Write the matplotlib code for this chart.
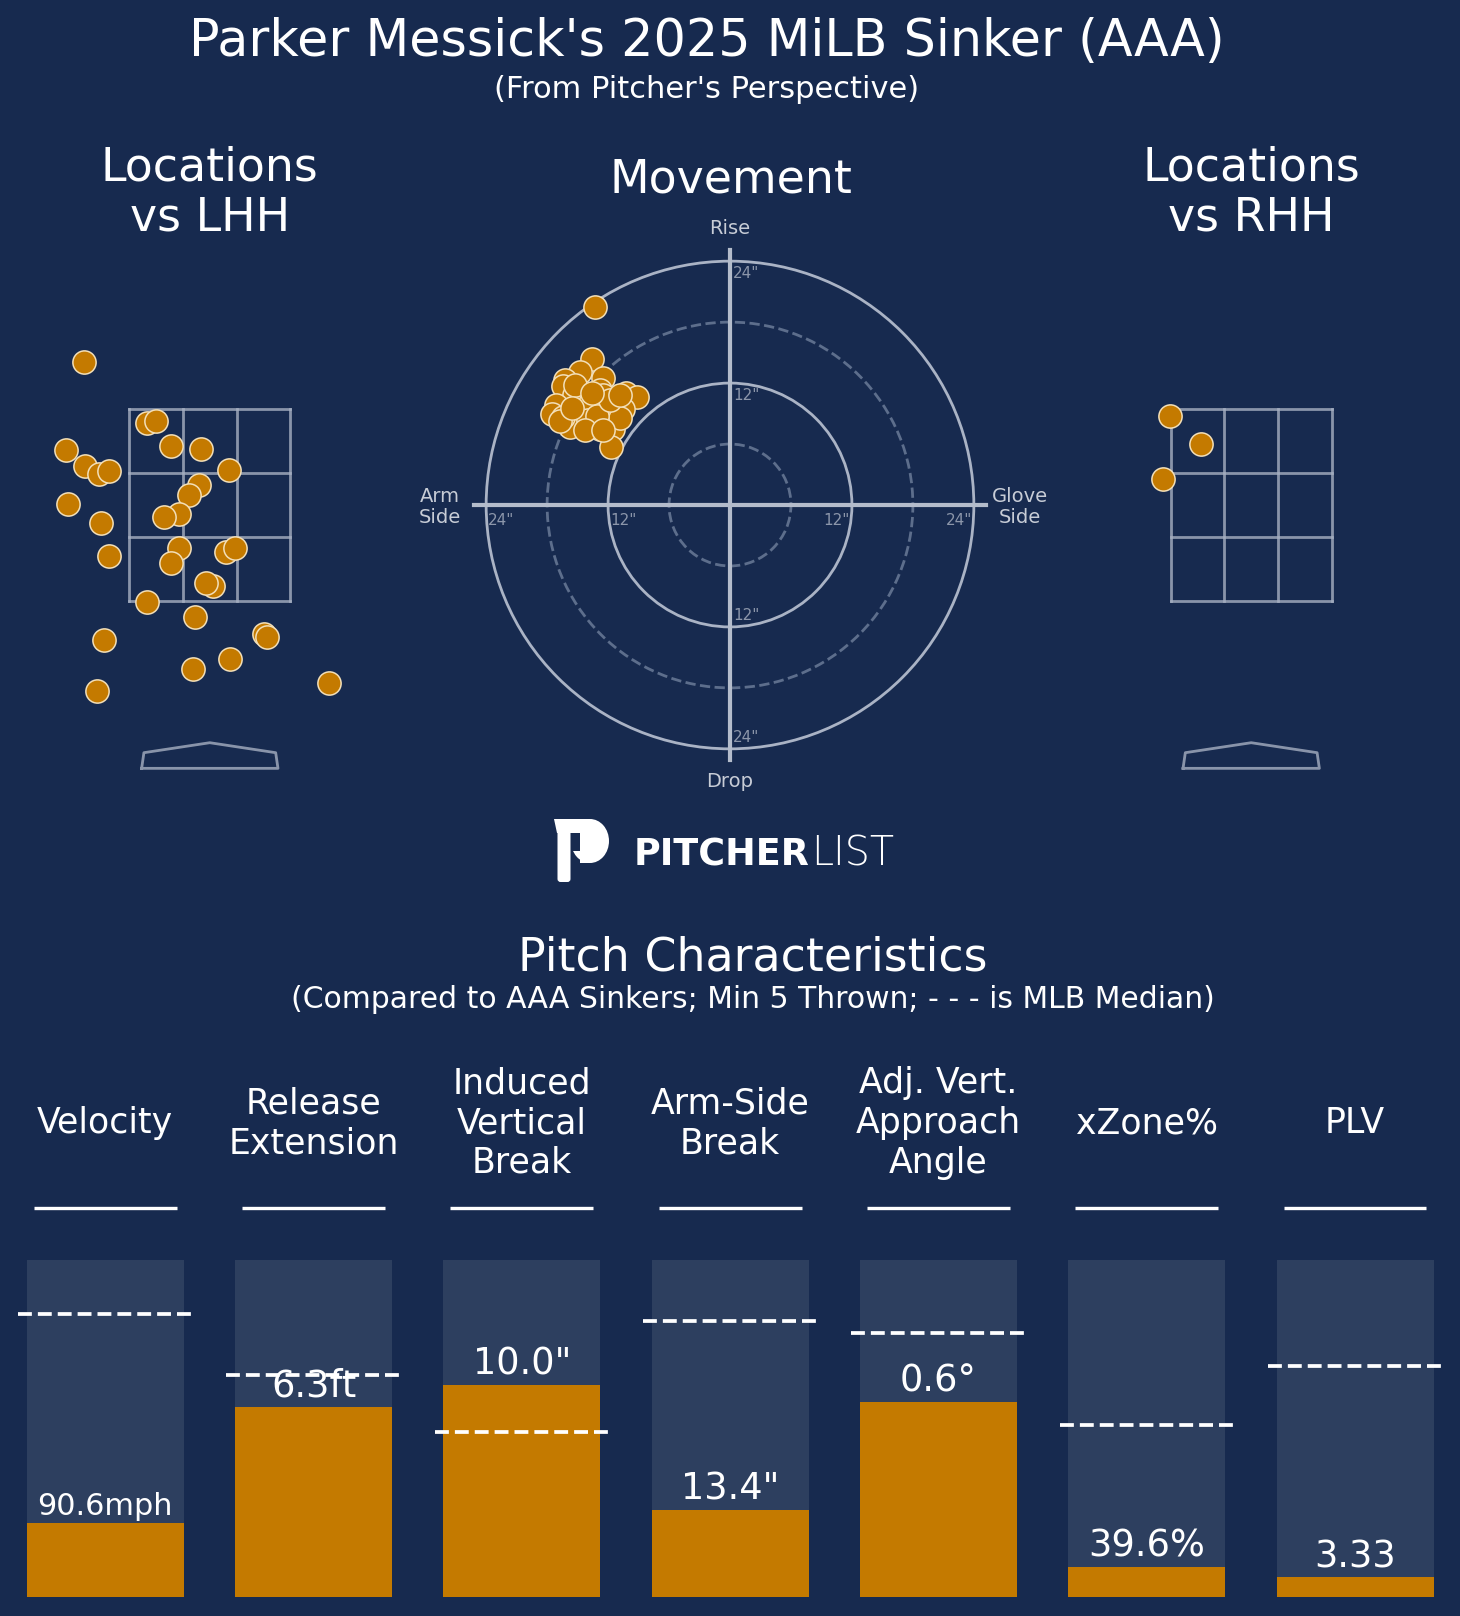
import matplotlib
matplotlib.use('Agg')
import matplotlib.pyplot as plt
from matplotlib.patches import Circle, Rectangle, Ellipse, FancyBboxPatch, Polygon

# ---------------- data ----------------
title = "Parker Messick's 2025 MiLB Sinker (AAA)"
subtitle = "(From Pitcher's Perspective)"

# pitch locations (ft, pitcher's perspective)
lhh_x = [-1.11, -0.555, -0.474, -0.342, -0.075, -1.263, -1.101, -0.973, -0.885, 0.166,
         -1.248, -0.958, -0.885, -0.098, -0.186, -0.274, -0.406, -0.274, -0.342, 0.145,
         0.224, 0.026, -0.036, -0.553, -0.130, -0.931, 0.477, 0.501, 0.180, -0.148,
         -0.996, 1.049]
lhh_y = [3.99, 3.354, 3.375, 3.115, 3.086, 3.076, 2.906, 2.823, 2.857, 2.865,
         2.510, 2.313, 1.975, 2.711, 2.607, 2.413, 2.378, 2.055, 1.899, 2.010,
         2.055, 1.659, 1.694, 1.496, 1.336, 1.097, 1.160, 1.131, 0.896, 0.792,
         0.569, 0.649]
rhh_x = [-0.715, -0.439, -0.779]
rhh_y = [3.43, 3.142, 2.777]

# movement (inches): negative horizontal = arm side
mov_hb = [-13.3, -13.6, -14.8, -12.5, -16.2, -16.4, -15.4, -12.8, -10.2, -9.2,
          -10.5, -17.1, -17.5, -14.8, -12.5, -15.1, -15.7, -12.8, -12.3, -11.5,
          -11.7, -16.4, -13.8, -12.5, -14.0, -10.8, -15.3, -13.1, -11.8, -14.3,
          -16.7, -10.8, -13.6, -12.5, -15.6]
mov_ivb = [19.5, 14.4, 13.1, 12.5, 12.3, 11.7, 10.8, 11.3, 11.0, 10.6,
           9.4, 9.8, 9.0, 9.2, 9.7, 8.4, 7.7, 7.5, 7.8, 7.5,
           5.7, 8.7, 10.0, 10.8, 8.4, 8.6, 11.8, 8.8, 10.3, 7.4,
           8.3, 10.8, 11.0, 7.4, 9.5]

metrics = ['Velocity', 'Release\nExtension', 'Induced\nVertical\nBreak', 'Arm-Side\nBreak',
           'Adj. Vert.\nApproach\nAngle', 'xZone%', 'PLV']
value_labels = ['90.6mph', '6.3ft', '10.0"', '13.4"', '0.6°', '39.6%', '3.33']
percentiles = [22, 56.5, 63, 26, 58, 9, 6]
median_pct = [84, 66, 49, 82, 78.5, 51, 68.5]

# ---------------- style ----------------
W, H = 1460, 1616
BG = '#172a4f'
ORANGE = '#c47a00'
EDGE = '#f3dfb8'
BARBG = '#2d3f5f'
ZONE = '#a7b0c2'
TXT = 'white'
LAB = '#c7ccd6'
TICK = '#8c96aa'

plt.rcParams['font.family'] = ['DejaVu Sans']
fig = plt.figure(figsize=(W / 100, H / 100), dpi=100, facecolor=BG)


def px_axes(x0, y0, x1, y1):
    ax = fig.add_axes([x0 / W, 1 - y1 / H, (x1 - x0) / W, (y1 - y0) / H])
    ax.set_facecolor('none')
    ax.axis('off')
    return ax


def ftext(x, y, s, **kw):
    fig.text(x / W, 1 - y / H, s, **kw)


ftext(707, 42, title, fontsize=36.5, color=TXT, ha='center', va='center')
ftext(707, 90, subtitle, fontsize=22, color=TXT, ha='center', va='center')

# ---------------- locations ----------------
def loc_plot(cx, xs, ys, label):
    ax = px_axes(cx - 200, 330, cx + 200, 790)
    ax.set_xlim(-200 / 113.6, 200 / 113.6)
    ax.set_ylim(3.5 - (790 - 409.3) / 96, 3.5 + (409.3 - 330) / 96)
    zx = [-0.708, -0.236, 0.236, 0.708]
    zy = [1.5, 2.1667, 2.8333, 3.5]
    for x in zx:
        ax.plot([x, x], [1.5, 3.5], color=ZONE, lw=2, alpha=0.8, zorder=1)
    for y in zy:
        ax.plot([-0.708, 0.708], [y, y], color=ZONE, lw=2, alpha=0.8, zorder=1)
    ax.plot([-0.60, -0.58, 0, 0.58, 0.60, -0.60], [-0.24, -0.077, 0.027, -0.077, -0.24, -0.24],
            color=ZONE, lw=2, alpha=0.8, zorder=1)
    ax.scatter(xs, ys, s=280, color=ORANGE, edgecolors=EDGE, linewidths=1.1, zorder=3)
    ftext(cx, 193, label, fontsize=33, color=TXT, ha='center', va='center', linespacing=1.17)


loc_plot(209.8, lhh_x, lhh_y, 'Locations\nvs LHH')
loc_plot(1251.2, rhh_x, rhh_y, 'Locations\nvs RHH')

# ---------------- movement ----------------
S = 10.16
axm = px_axes(420, 200, 1040, 810)
axm.set_xlim(-310 / S, 310 / S)
axm.set_ylim(-305 / S, 305 / S)
for r, ls, col in [(6, '--', '#5d6e8c'), (12, '-', '#aab3c5'), (18, '--', '#5d6e8c'), (24, '-', '#aab3c5')]:
    axm.add_patch(Circle((0, 0), r, fill=False, ec=col, lw=2, ls=ls, zorder=1))
axm.plot([-25.2, 25.2], [0, 0], color='#b4bccb', lw=3, zorder=1)
axm.plot([0, 0], [-25.1, 25.1], color='#b4bccb', lw=3, zorder=1)
tk = dict(fontsize=11, color=TICK)
axm.text(0.3, 23.5, '24"', ha='left', va='top', **tk)
axm.text(0.3, 11.5, '12"', ha='left', va='top', **tk)
axm.text(0.3, -11.6, '12"', ha='left', va='bottom', **tk)
axm.text(0.3, -23.6, '24"', ha='left', va='bottom', **tk)
axm.text(-23.8, -0.8, '24"', ha='left', va='top', **tk)
axm.text(-11.8, -0.8, '12"', ha='left', va='top', **tk)
axm.text(11.8, -0.8, '12"', ha='right', va='top', **tk)
axm.text(23.8, -0.8, '24"', ha='right', va='top', **tk)
lb = dict(fontsize=14, color=LAB, ha='center', va='center')
axm.text(0, 27.2, 'Rise', **lb)
axm.text(0, -27.2, 'Drop', **lb)
axm.text(-28.6, -0.2, 'Arm\nSide', linespacing=1.15, **lb)
axm.text(28.5, -0.2, 'Glove\nSide', linespacing=1.15, **lb)
axm.scatter(mov_hb, mov_ivb, s=280, color=ORANGE, edgecolors=EDGE, linewidths=1.1, zorder=3)
ftext(730.5, 180, 'Movement', fontsize=33, color=TXT, ha='center', va='center')

# ---------------- logo ----------------
axl = px_axes(0, 0, W, H)
axl.set_xlim(0, W)
axl.set_ylim(H, 0)
axl.add_patch(Polygon([(554, 819), (590, 819), (590, 833), (557, 833)], closed=True, fc='white', ec='none'))
axl.add_patch(Rectangle((580, 819), 10, 44, fc='white', ec='none'))
axl.add_patch(Ellipse((590, 841), 38, 44, fc='white', ec='none'))
axl.add_patch(Rectangle((571, 833), 9, 18, fc=BG, ec='none', zorder=3))
axl.add_patch(FancyBboxPatch((557.5, 829), 13, 53, boxstyle='round,pad=0,rounding_size=3',
                             fc='white', ec='none', zorder=4))
axl.text(634, 866, 'PITCHER', fontsize=26.3, fontweight='bold', color='white', ha='left', va='baseline')
axl.text(811, 866, 'LIST', fontsize=28.5, fontweight='light', color='white', ha='left', va='baseline')

# ---------------- pitch characteristics ----------------
ftext(753, 958, 'Pitch Characteristics', fontsize=33, color=TXT, ha='center', va='center')
ftext(753, 1000, '(Compared to AAA Sinkers; Min 5 Thrown; - - - is MLB Median)', fontsize=21.5,
      color=TXT, ha='center', va='center')

SP = 208.3
axb = px_axes(0, 1260, W, 1597.3)
axb.set_xlim(-105.2 / SP, (W - 105.2) / SP)
axb.set_ylim(0, 100)
xs = list(range(len(metrics)))
bw = 157 / SP
axb.bar(xs, [100] * len(xs), width=bw, color=BARBG, zorder=1)
axb.bar(xs, percentiles, width=bw, color=ORANGE, zorder=2)
axb.hlines(median_pct, [x - 0.418 for x in xs], [x + 0.418 for x in xs], colors='white',
           linestyles='--', lw=2.7, zorder=5)
renderer = fig.canvas.get_renderer()
for x, lab, v, p in zip(xs, metrics, value_labels, percentiles):
    axb.text(x, 140.6, lab, fontsize=25, color=TXT, ha='center', va='center', linespacing=1.22,
             clip_on=False)
    axb.plot([x - 0.343, x + 0.343], [115.4, 115.4], color='white', lw=2.4, clip_on=False,
             solid_capstyle='butt')
    t = axb.text(x, p + 0.6, v, fontsize=26.5, color=TXT, ha='center', va='bottom', zorder=6)
    wpx = t.get_window_extent(renderer).width
    if wpx > 0.86 * 157:
        t.set_fontsize(26.5 * 0.86 * 157 / wpx)

fig.savefig('out.png', dpi=100, facecolor=BG)
